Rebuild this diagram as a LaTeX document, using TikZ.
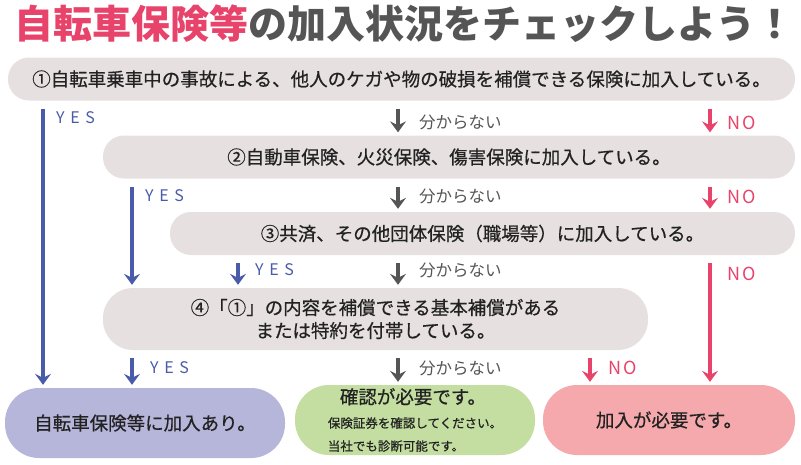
\documentclass[tikz,border=0pt]{standalone}
\usepackage{fontspec}
\setmainfont{Noto Sans CJK JP}
\newfontfamily\jpmed{Noto Sans CJK JP}[FakeBold=0.6]
\usetikzlibrary{arrows.meta,positioning}
\definecolor{ink}{HTML}{222222}
\definecolor{inkgrey}{HTML}{555555}
\definecolor{accent}{HTML}{E8436A}
\definecolor{yesblue}{HTML}{4A5BAA}
\definecolor{panelbg}{HTML}{E7E0E1}
\definecolor{okbg}{HTML}{B6B5DA}
\definecolor{checkbg}{HTML}{C3DEA0}
\definecolor{needbg}{HTML}{F5A9AC}

\begin{document}
\begin{tikzpicture}[x=1pt, y=-1pt,
  every node/.style={font=\jpmed\fontsize{18.5}{23}\selectfont, text=ink},
  question/.style={rectangle, rounded corners=21pt, fill=panelbg, minimum height=43pt, inner sep=0pt, align=center},
  result/.style={rectangle, rounded corners=34pt, minimum height=70pt, inner sep=0pt, align=center},
  yesarrow/.style={-{Stealth[length=11pt,width=16pt,inset=4pt]}, line width=4pt, draw=yesblue, shorten <=8pt, shorten >=3pt},
  unkarrow/.style={yesarrow, draw=inkgrey},
  noarrow/.style={yesarrow, draw=accent},
  yeslabel/.style={font=\fontsize{16}{18}\selectfont\addfontfeature{LetterSpace=35}, text=yesblue, anchor=west, inner sep=0pt},
  unklabel/.style={font=\fontsize{16.5}{18}\selectfont, text=inkgrey, anchor=west, inner sep=0pt},
  nolabel/.style={font=\fontsize{18}{20}\selectfont\addfontfeature{LetterSpace=12}, text=accent, anchor=west, inner sep=0pt}
]
\useasboundingbox (0,0) rectangle (801,464);

% title
\node[font=\fontsize{39}{41}\selectfont\bfseries] (title) at (405,24)
  {\textcolor{accent}{自転車保険等}\textcolor{inkgrey}{の加入状況をチェックしよう！}};

% questions
\node[question, minimum width=787pt] (q1) at (401.5,79)
  {①自転車乗車中の事故による、他人のケガや物の破損を補償できる保険に加入している。};
\node[question, minimum width=692pt] (q2) at (449,157)
  {②自動車保険、火災保険、傷害保険に加入している。};
\node[question, minimum width=625pt] (q3) at (482.5,233.5)
  {③共済、その他団体保険（職場等）に加入している。};
\node[question, minimum width=545pt, minimum height=62pt, rounded corners=30pt] (q4) at (375.5,319)
  {④「①」の内容を補償できる基本補償がある\\または特約を付帯している。};

% results
\node[result, fill=okbg, minimum width=280pt] (okres) at (145,423)
  {自転車保険等に加入あり。};
\node[result, fill=checkbg, minimum width=240pt, align=left] (checkres) at (415,420)
  {\hspace*{12pt}{\fontsize{18.5}{22}\selectfont 確認が必要です。}\\[1pt]
   {\fontsize{12.5}{18}\selectfont 保険証券を確認してください。}\\
   {\fontsize{12.5}{18}\selectfont 当社でも診断可能です。}};
\node[result, fill=needbg, minimum width=252pt] (needres) at (669,420)
  {加入が必要です。};

% columns
\coordinate (colA) at (43,0);
\coordinate (colB) at (132,0);
\coordinate (colC) at (238,0);
\coordinate (colM) at (398,0);
\coordinate (colP) at (590,0);
\coordinate (colN) at (710,0);

% from q1
\draw[yesarrow] (colA |- q1.south) -- (colA |- okres.north);
\draw[unkarrow] (colM |- q1.south) -- (colM |- q2.north);
\draw[noarrow]  (colN |- q1.south) -- (colN |- q2.north);
\node[yeslabel] (yes1) at (56,118) {YES};
\node[unklabel] (unk1) at (419,122) {分からない};
\node[nolabel]  (no1)  at (727,123) {NO};

% from q2
\draw[yesarrow] (colB |- q2.south) -- (colB |- q4.north);
\draw[unkarrow] (colM |- q2.south) -- (colM |- q3.north);
\draw[noarrow]  (colN |- q2.south) -- (colN |- q3.north);
\node[yeslabel] (yes2) at (145,196) {YES};
\node[unklabel] (unk2) at (419,196) {分からない};
\node[nolabel]  (no2)  at (727,197) {NO};

% from q3
\draw[yesarrow] (colC |- q3.south) -- (colC |- q4.north);
\draw[unkarrow] (colM |- q3.south) -- (colM |- q4.north);
\draw[noarrow]  (colN |- q3.south) -- (colN |- needres.north);
\node[yeslabel] (yes3) at (255,270) {YES};
\node[unklabel] (unk3) at (419,270) {分からない};
\node[nolabel]  (no3)  at (727,274) {NO};

% from q4
\draw[yesarrow] (colB |- q4.south) -- (colB |- okres.north);
\draw[unkarrow] (colM |- q4.south) -- (colM |- checkres.north);
\draw[noarrow]  (colP |- q4.south) -- (colP |- needres.north);
\node[yeslabel] (yes4) at (150,368) {YES};
\node[unklabel] (unk4) at (419,368) {分からない};
\node[nolabel]  (no4)  at (608,368) {NO};
\end{tikzpicture}
\end{document}
